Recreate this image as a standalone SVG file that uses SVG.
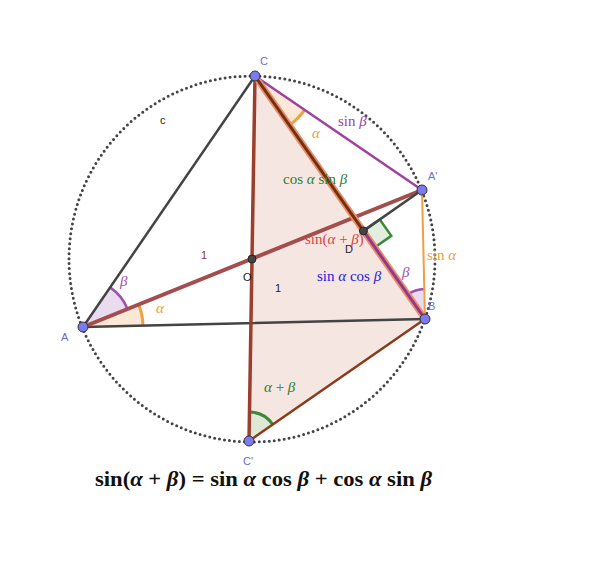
<svg xmlns="http://www.w3.org/2000/svg" width="590" height="566" viewBox="0 0 590 566">
<style>
.pt{fill:#7b7bf0;stroke:#333;stroke-width:1}
.dp{fill:#444;stroke:#222;stroke-width:1}
.pl{font-family:"Liberation Sans",Arial,sans-serif;font-size:11px;fill:#6b6bd6}
.bl{font-family:"Liberation Sans",Arial,sans-serif;font-size:11px;fill:#222}
.m{font-family:"Liberation Serif","DejaVu Serif",serif;font-size:15px}
.g{font-style:italic}
</style>
<rect width="590" height="566" fill="#fff"/>
<g id="circle">
<circle cx="252" cy="259" r="183" fill="none" stroke="#444" stroke-width="3" stroke-dasharray="0 5" stroke-linecap="round"/>
</g>
<g id="triangle">
<polygon points="255,76 425,319 249,441" fill="#f6e6e2"/>
</g>
<g id="angles">
<path d="M255,76 L289.4,125.1 A60,60 0 0,0 304.6,109.8 Z" fill="#fbe8d6"/>
<path d="M289.4,125.1 A60,60 0 0,0 304.6,109.8" fill="none" stroke="#f0a040" stroke-width="3"/>
<path d="M83,327 L110.1,287.4 A48,48 0 0,1 127.5,309 Z" fill="#eadcf0"/>
<path d="M110.1,287.4 A48,48 0 0,1 127.5,309" fill="none" stroke="#a050b0" stroke-width="2.5"/>
<path d="M83,327 L138.6,304.5 A60,60 0 0,1 143,325.6 Z" fill="#fbe8d6"/>
<path d="M138.6,304.5 A60,60 0 0,1 143,325.6" fill="none" stroke="#f0a040" stroke-width="3"/>
<path d="M425,319 L407.8,294.4 A30,30 0 0,1 424.3,289 Z" fill="#eadcf0"/>
<path d="M407.8,294.4 A30,30 0 0,1 424.3,289" fill="none" stroke="#a050b0" stroke-width="2.5"/>
<path d="M249,441 L249.5,412 A29,29 0 0,1 272.8,424.5 Z" fill="#dde8d6"/>
<path d="M249.5,412 A29,29 0 0,1 272.8,424.5" fill="none" stroke="#3a8a3a" stroke-width="3"/>
<path d="M363.4,230.9 L379.8,219.5 L391.3,235.9 L374.9,247.3 Z" fill="#e2eedf" stroke="#3a8a3a" stroke-width="2.5"/>
</g>
<g id="connectors" fill="none" stroke-linecap="round">
<line x1="83" y1="327" x2="255" y2="76" stroke="#444" stroke-width="2.5"/>
<line x1="83" y1="327" x2="425" y2="319" stroke="#444" stroke-width="2.5"/>
<line x1="255" y1="76" x2="249" y2="441" stroke="#9c3e2b" stroke-width="3.5"/>
<line x1="425" y1="319" x2="249" y2="441" stroke="#8b3a1a" stroke-width="2.5"/>
<line x1="83" y1="327" x2="422" y2="190" stroke="#a34d4d" stroke-width="4"/>
<line x1="255" y1="76" x2="422" y2="190" stroke="#a040a0" stroke-width="2.5"/>
<line x1="422" y1="190" x2="425" y2="319" stroke="#f0a040" stroke-width="2"/>
<line x1="363.4" y1="230.9" x2="422" y2="190" stroke="#444" stroke-width="2.5"/>
<line x1="255" y1="76" x2="425" y2="319" stroke="#f08a6a" stroke-width="6.5"/>
<line x1="255" y1="76" x2="363.4" y2="230.9" stroke="#6e3410" stroke-width="3"/>
<line x1="363.4" y1="230.9" x2="425" y2="319" stroke="#8e3b8e" stroke-width="3"/>
</g>
<g id="C"><circle class="pt" cx="255" cy="76" r="5"/><text class="pl" x="260" y="65">C</text></g>
<g id="A1"><circle class="pt" cx="422" cy="190" r="5"/><text class="pl" x="428" y="180">A'</text></g>
<g id="B"><circle class="pt" cx="425" cy="319" r="5"/><text class="pl" x="428" y="310">B</text></g>
<g id="A"><circle class="pt" cx="83" cy="327" r="5"/><text class="pl" x="61" y="341">A</text></g>
<g id="C1"><circle class="pt" cx="249" cy="441" r="5"/><text class="pl" x="243" y="465">C'</text></g>
<g id="O"><circle class="dp" cx="252" cy="259" r="4"/><text class="bl" x="243" y="281">O</text></g>
<g id="D"><circle class="dp" cx="363.4" cy="230.9" r="4"/><text class="bl" x="345" y="253">D</text></g>
<g id="labels">
<text class="bl" x="160" y="124">c</text>
<text class="bl" x="201" y="259" style="fill:#8b3030">1</text>
<text class="bl" x="275" y="292">1</text>
<text class="m" x="120" y="286" fill="#a050b0"><tspan class="g">β</tspan></text>
<text class="m" x="156" y="313" fill="#f0a040"><tspan class="g">α</tspan></text>
<text class="m" x="312" y="138" fill="#f0a040"><tspan class="g">α</tspan></text>
<text class="m" x="402" y="277" fill="#a050b0"><tspan class="g">β</tspan></text>
<text class="m" x="338" y="126" fill="#a040a0">sin <tspan class="g">β</tspan></text>
<text class="m" x="283" y="184" fill="#2e7d32">cos <tspan class="g">α</tspan> sin <tspan class="g">β</tspan></text>
<text class="m" x="305" y="244" fill="#e04040">sin(<tspan class="g">α</tspan> + <tspan class="g">β</tspan>)</text>
<text class="m" x="317" y="281" fill="#2020e0">sin <tspan class="g">α</tspan> cos <tspan class="g">β</tspan></text>
<text class="m" x="427" y="260" fill="#f0a040">sin <tspan class="g">α</tspan></text>
<text class="m" x="264" y="392" fill="#2e7d32"><tspan class="g">α</tspan> + <tspan class="g">β</tspan></text>
<text x="95" y="486" font-family="'Liberation Serif','DejaVu Serif',serif" font-size="20" font-weight="bold" fill="#111" textLength="337" lengthAdjust="spacingAndGlyphs">sin(<tspan font-style="italic">α</tspan> + <tspan font-style="italic">β</tspan>) = sin <tspan font-style="italic">α</tspan> cos <tspan font-style="italic">β</tspan> + cos <tspan font-style="italic">α</tspan> sin <tspan font-style="italic">β</tspan></text>
</g>
</svg>
